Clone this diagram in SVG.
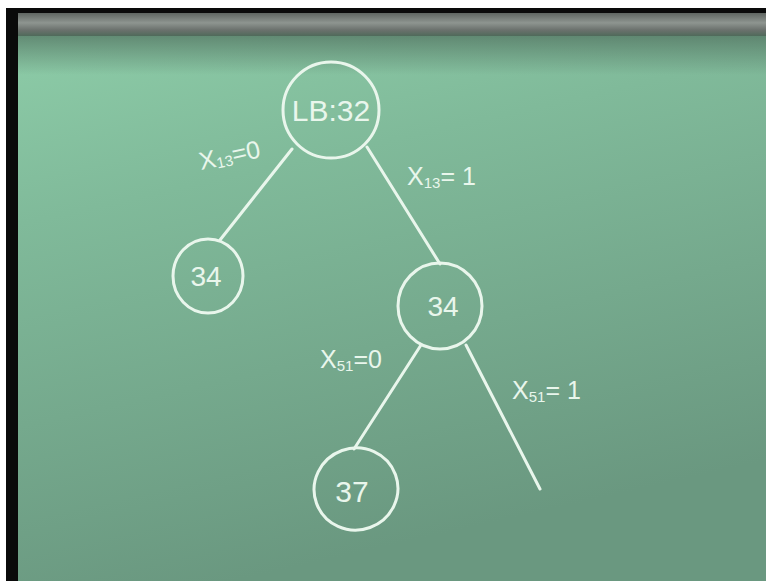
<svg xmlns="http://www.w3.org/2000/svg" width="766" height="581" viewBox="0 0 766 581">
<defs>
<linearGradient id="board" x1="0" y1="0" x2="0.3" y2="1">
<stop offset="0" stop-color="#8fcfaa"/>
<stop offset="0.35" stop-color="#80ba9a"/>
<stop offset="1" stop-color="#6a9880"/>
</linearGradient>
<linearGradient id="ledge" x1="0" y1="0" x2="0" y2="1">
<stop offset="0" stop-color="#5a605c"/>
<stop offset="0.45" stop-color="#8e9590"/>
<stop offset="0.75" stop-color="#6b716d"/>
<stop offset="1" stop-color="#4f6a5a"/>
</linearGradient>
<linearGradient id="shade" x1="0" y1="0" x2="0" y2="1">
<stop offset="0" stop-color="#4f6e5d" stop-opacity="0.7"/>
<stop offset="1" stop-color="#4f6e5d" stop-opacity="0"/>
</linearGradient>
<style>
.chalk{fill:none;stroke:#e9f6ec;stroke-width:3;stroke-linecap:round}
.t{fill:#e9f6ec;font-family:"Liberation Sans",Arial,sans-serif}
.lbl{font-size:25px}
.sub{font-size:15px}
</style>
</defs>
<rect x="0" y="0" width="766" height="581" fill="#ffffff"/>
<rect x="6" y="8" width="760" height="573" fill="url(#board)"/>
<rect x="18" y="35" width="748" height="40" fill="url(#shade)"/>
<rect x="18" y="12" width="748" height="24" fill="url(#ledge)"/>
<rect x="6" y="8" width="760" height="5" fill="#0a0a0a"/>
<rect x="6" y="8" width="12" height="573" fill="#0a0a0a"/>

<g id="connectors">
<line class="chalk" x1="292" y1="149" x2="220" y2="240"/>
<line class="chalk" x1="367" y1="147" x2="440" y2="264"/>
<line class="chalk" x1="421" y1="345" x2="354" y2="449"/>
<line class="chalk" x1="466" y1="345" x2="540" y2="489"/>
</g>

<g id="root">
<ellipse class="chalk" cx="331" cy="110" rx="48" ry="48"/>
<text class="t" x="331" y="121" font-size="30" text-anchor="middle">LB:32</text>
</g>
<g id="left34">
<ellipse class="chalk" cx="208" cy="276" rx="35" ry="37"/>
<text class="t" x="206" y="286" font-size="28" text-anchor="middle">34</text>
</g>
<g id="mid34">
<ellipse class="chalk" cx="440" cy="306" rx="42" ry="43"/>
<text class="t" x="443" y="316" font-size="28" text-anchor="middle">34</text>
</g>
<g id="node37">
<ellipse class="chalk" cx="356" cy="489" rx="42" ry="41" transform="rotate(-20 356 489)"/>
<text class="t" x="352" y="502" font-size="30" text-anchor="middle">37</text>
</g>

<g id="labels">
<text class="t lbl" x="201" y="170" transform="rotate(-12 201 170)">X<tspan class="sub" dy="2">13</tspan><tspan dy="-2">=0</tspan></text>
<text class="t lbl" x="407" y="185">X<tspan class="sub" dy="3">13</tspan><tspan dy="-3">= 1</tspan></text>
<text class="t lbl" x="320" y="368">X<tspan class="sub" dy="3">51</tspan><tspan dy="-3">=0</tspan></text>
<text class="t lbl" x="512" y="399">X<tspan class="sub" dy="3">51</tspan><tspan dy="-3">= 1</tspan></text>
</g>
</svg>
